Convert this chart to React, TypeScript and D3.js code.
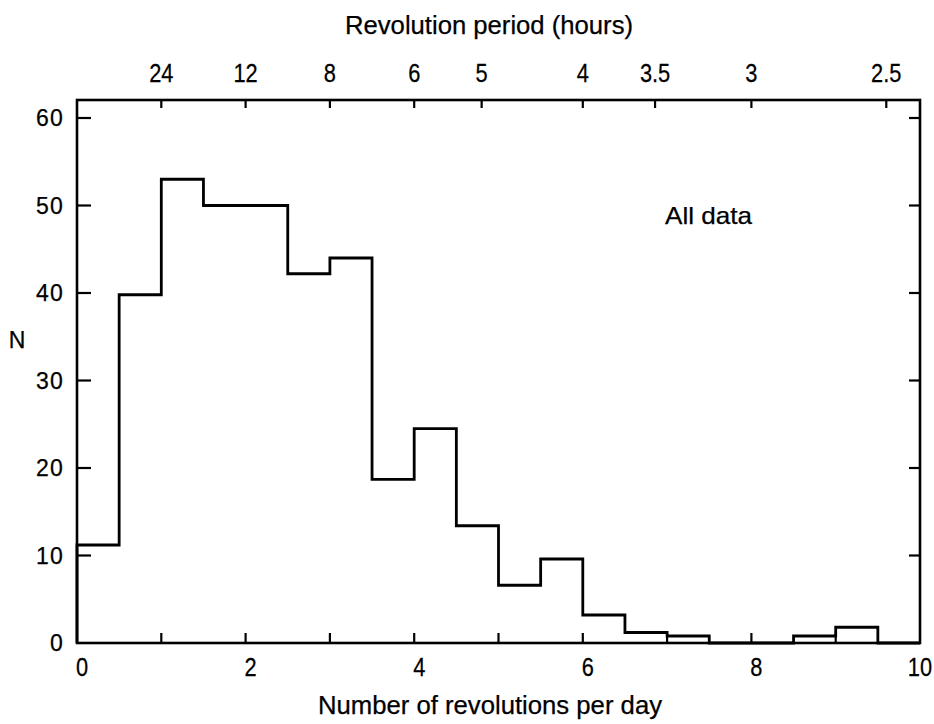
import React from "react";
import * as d3 from "d3";

// Histogram bins (revolutions per day), left edges, width 0.5
const binStarts = [0, 0.5, 1, 1.5, 2, 2.5, 3, 3.5, 4, 4.5, 5, 5.5, 6, 6.5, 7, 7.5, 8, 8.5, 9, 9.5];
const binWidth = 0.5;
const counts = [11.2, 39.8, 53, 50, 50, 42.2, 44, 18.7, 24.5, 13.4, 6.6, 9.6, 3.2, 1.2, 0.8, 0, 0, 0.8, 1.8, 0];

const bottomTicks = [1, 2, 3, 4, 5, 6, 7, 8, 9];
const bottomLabels = [0, 2, 4, 6, 8, 10];
const leftTicks = [10, 20, 30, 40, 50, 60];
const leftLabels = [0, 10, 20, 30, 40, 50, 60];
const periodHours = [24, 12, 8, 6, 5, 4, 3.5, 3, 2.5];
const periodLabels = ["24", "12", "8", "6", "5", "4", "3.5", "3", "2.5"];

const FONT = "'Liberation Sans', Arial, Helvetica, sans-serif";

export default function App() {
  const x = d3.scaleLinear().domain([0, 10]).range([77, 920]);
  const y = d3.scaleLinear().domain([0, 60]).range([643, 118]);
  const top = 100;

  const pts: [number, number][] = binStarts.map((s, i) => [s, counts[i]]);
  pts.push([binStarts[binStarts.length - 1] + binWidth, counts[counts.length - 1]]);
  const line = d3
    .line<[number, number]>()
    .x((d) => x(d[0]))
    .y((d) => y(d[1]))
    .curve(d3.curveStepAfter);
  const path = line([[0, 0] as [number, number], ...pts]) || "";

  const txt = { stroke: "#000", strokeWidth: 0.25 };
  const cond = 0.84;

  return (
    <svg
      width={934}
      height={724}
      style={{ position: "absolute", left: 0, top: 0, background: "#fff" }}
      fontFamily={FONT}
    >
      <rect x={0} y={0} width={934} height={724} fill="#fff" />
      {/* histogram */}
      <path d={path} fill="none" stroke="#000" strokeWidth={2.8} strokeLinejoin="miter" />
      {/* frame */}
      <rect
        x={x(0)}
        y={top}
        width={x(10) - x(0)}
        height={y(0) - top}
        fill="none"
        stroke="#000"
        strokeWidth={2.6}
      />
      {/* left & right ticks */}
      {leftTicks.map((t) => (
        <g key={"l" + t}>
          <line x1={x(0)} x2={x(0) + 14} y1={y(t)} y2={y(t)} stroke="#000" strokeWidth={2.2} />
          <line x1={x(10)} x2={x(10) - 11} y1={y(t)} y2={y(t)} stroke="#000" strokeWidth={2.2} />
        </g>
      ))}
      {leftLabels.map((t) => (
        <text
          key={"ll" + t}
          x={64}
          y={y(t)}
          dy="0.36em"
          textAnchor="end"
          fontSize={23}
          letterSpacing={1.2}
          {...txt}
        >
          {t}
        </text>
      ))}
      {/* bottom ticks */}
      {bottomTicks.map((t) => (
        <line key={"b" + t} x1={x(t)} x2={x(t)} y1={y(0)} y2={y(0) - 10} stroke="#000" strokeWidth={2.2} />
      ))}
      {bottomLabels.map((t, i) => (
        <text
          key={"bl" + t}
          transform={`translate(${x(t) + (i === bottomLabels.length - 1 ? 0 : 5)},676) scale(${cond},1)`}
          textAnchor="middle"
          fontSize={26}
          {...txt}
        >
          {t}
        </text>
      ))}
      {/* top ticks (period) */}
      {periodHours.map((h, i) => (
        <g key={"t" + i}>
          <line x1={x(24 / h)} x2={x(24 / h)} y1={top} y2={top + 8} stroke="#000" strokeWidth={2.2} />
          <text
            transform={`translate(${x(24 / h)},82) scale(${cond},1)`}
            textAnchor="middle"
            fontSize={26}
            {...txt}
          >
            {periodLabels[i]}
          </text>
        </g>
      ))}
      {/* titles */}
      <text x={489} y={34} textAnchor="middle" fontSize={25} textLength={288} lengthAdjust="spacingAndGlyphs" {...txt}>
        Revolution period (hours)
      </text>
      <text x={490} y={714} textAnchor="middle" fontSize={25} textLength={344} lengthAdjust="spacingAndGlyphs" {...txt}>
        Number of revolutions per day
      </text>
      <text x={17} y={340} dy="0.36em" textAnchor="middle" fontSize={23} {...txt}>
        N
      </text>
      <text x={665} y={224} fontSize={24} textLength={87} lengthAdjust="spacingAndGlyphs" {...txt}>
        All data
      </text>
    </svg>
  );
}
